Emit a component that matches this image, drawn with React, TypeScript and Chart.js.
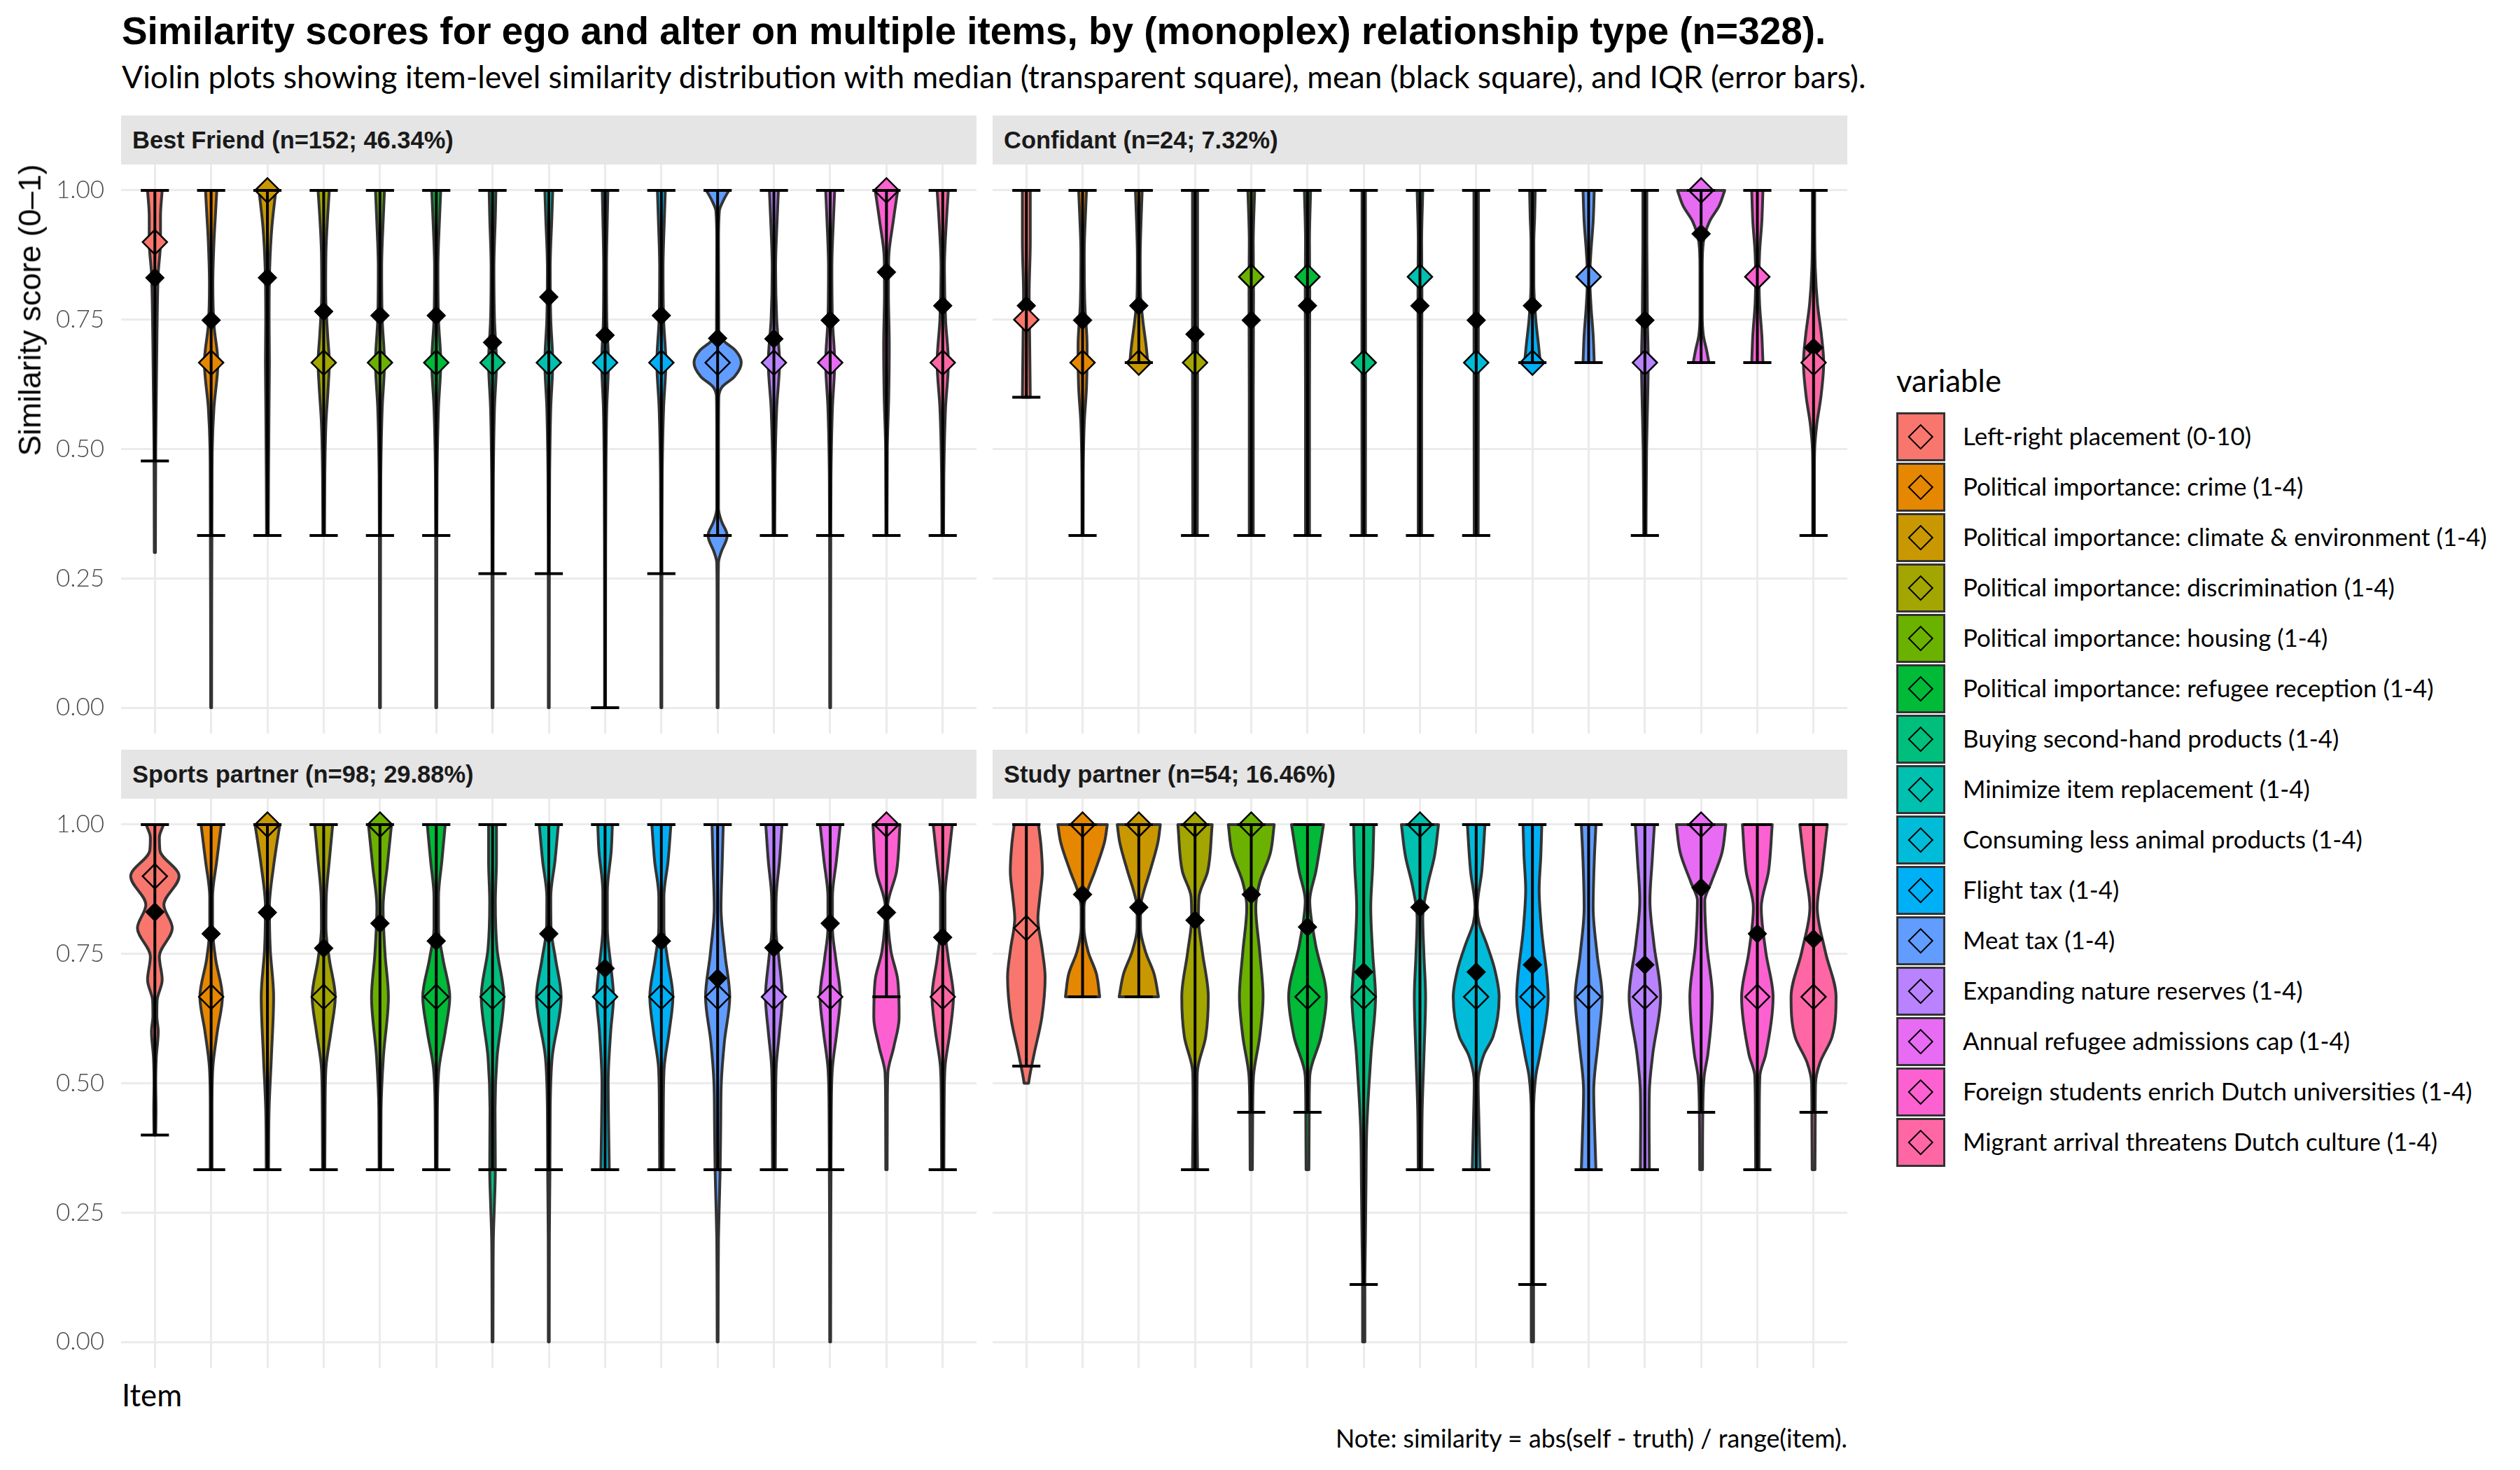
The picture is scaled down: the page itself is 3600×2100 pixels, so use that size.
import React, { useEffect, useRef } from "react";
import { Chart, registerables } from "chart.js";

Chart.register(...registerables);

// ---------------- DATA ----------------
const ITEMS = [
  "Left-right placement (0-10)",
  "Political importance: crime (1-4)",
  "Political importance: climate & environment (1-4)",
  "Political importance: discrimination (1-4)",
  "Political importance: housing (1-4)",
  "Political importance: refugee reception (1-4)",
  "Buying second-hand products (1-4)",
  "Minimize item replacement (1-4)",
  "Consuming less animal products (1-4)",
  "Flight tax (1-4)",
  "Meat tax (1-4)",
  "Expanding nature reserves (1-4)",
  "Annual refugee admissions cap (1-4)",
  "Foreign students enrich Dutch universities (1-4)",
  "Migrant arrival threatens Dutch culture (1-4)",
];

const COLORS = [
  "#F8766D", "#E58700", "#C99800", "#A3A500", "#6BB100",
  "#00BA38", "#00BF7D", "#00C0AF", "#00BCD8", "#00B0F6",
  "#619CFF", "#B983FF", "#E76BF3", "#FD61D1", "#FF67A4",
];

const Y_TICKS = [0, 0.25, 0.5, 0.75, 1];

const PANEL_TITLES = [
  "Best Friend (n=152; 46.34%)",
  "Confidant (n=24; 7.32%)",
  "Sports partner (n=98; 29.88%)",
  "Study partner (n=54; 16.46%)",
];

const TITLE = "Similarity scores for ego and alter on multiple items, by (monoplex) relationship type (n=328).";
const SUBTITLE = "Violin plots showing item-level similarity distribution with median (transparent square), mean (black square), and IQR (error bars).";
const Y_TITLE = "Similarity score (0\u20131)";
const X_TITLE = "Item";
const LEGEND_TITLE = "variable";
const NOTE = "Note: similarity = abs(self - truth) / range(item).";

// Best Friend
const BF_MEAN = [0.831, 0.749, 0.831, 0.766, 0.758, 0.758, 0.706, 0.794, 0.72, 0.758, 0.714, 0.713, 0.749, 0.842, 0.777];
const BF_MEDIAN = [0.9, 0.667, 1, 0.667, 0.667, 0.667, 0.667, 0.667, 0.667, 0.667, 0.667, 0.667, 0.667, 1, 0.667];
const BF_IQR_LOW = [0.477, 0.333, 0.333, 0.333, 0.333, 0.333, 0.259, 0.259, 0, 0.259, 0.333, 0.333, 0.333, 0.333, 0.333];
const BF_IQR_HIGH = [1, 1, 1, 1, 1, 1, 1, 1, 1, 1, 1, 1, 1, 1, 1];
// violin density profiles: [similarity value, scaled half-density]
const BF_VIOLIN = [
  [[0.3, 0.01], [0.4, 0.012], [0.5, 0.015], [0.6, 0.025], [0.7, 0.035], [0.78, 0.045], [0.84, 0.06], [0.9, 0.1], [0.95, 0.1], [1, 0.13]],
  [[0, 0.008], [0.2, 0.01], [0.4, 0.015], [0.5, 0.02], [0.58, 0.05], [0.667, 0.12], [0.74, 0.05], [0.82, 0.03], [0.9, 0.05], [0.96, 0.08], [1, 0.1]],
  [[0.333, 0.015], [0.45, 0.02], [0.6, 0.03], [0.667, 0.035], [0.75, 0.03], [0.85, 0.04], [0.93, 0.08], [1, 0.15]],
  [[0.333, 0.015], [0.45, 0.02], [0.55, 0.04], [0.62, 0.08], [0.667, 0.1], [0.72, 0.07], [0.8, 0.035], [0.88, 0.04], [0.95, 0.07], [1, 0.1]],
  [[0, 0.008], [0.3, 0.01], [0.45, 0.015], [0.58, 0.04], [0.667, 0.08], [0.75, 0.04], [0.85, 0.03], [0.95, 0.06], [1, 0.08]],
  [[0, 0.008], [0.3, 0.01], [0.45, 0.015], [0.58, 0.04], [0.667, 0.08], [0.75, 0.04], [0.85, 0.03], [0.95, 0.06], [1, 0.08]],
  [[0, 0.008], [0.3, 0.01], [0.45, 0.015], [0.58, 0.035], [0.667, 0.07], [0.75, 0.035], [0.85, 0.025], [0.95, 0.05], [1, 0.06]],
  [[0, 0.008], [0.3, 0.01], [0.45, 0.015], [0.58, 0.035], [0.667, 0.07], [0.75, 0.035], [0.85, 0.025], [0.95, 0.055], [1, 0.07]],
  [[0, 0.008], [0.3, 0.01], [0.45, 0.015], [0.58, 0.03], [0.667, 0.06], [0.75, 0.03], [0.85, 0.025], [0.95, 0.04], [1, 0.05]],
  [[0, 0.008], [0.3, 0.01], [0.45, 0.015], [0.58, 0.04], [0.667, 0.08], [0.75, 0.04], [0.85, 0.03], [0.95, 0.055], [1, 0.07]],
  [[0, 0.008], [0.2, 0.01], [0.28, 0.015], [0.3, 0.06], [0.333, 0.17], [0.36, 0.07], [0.385, 0.015], [0.5, 0.015], [0.6, 0.02], [0.62, 0.08], [0.64, 0.3], [0.667, 0.42], [0.69, 0.32], [0.71, 0.1], [0.73, 0.02], [0.9, 0.015], [0.96, 0.03], [0.98, 0.1], [1, 0.2]],
  [[0.333, 0.015], [0.45, 0.02], [0.58, 0.05], [0.667, 0.1], [0.75, 0.05], [0.85, 0.03], [0.95, 0.06], [1, 0.08]],
  [[0, 0.008], [0.3, 0.01], [0.45, 0.015], [0.58, 0.04], [0.667, 0.08], [0.75, 0.04], [0.85, 0.03], [0.95, 0.06], [1, 0.08]],
  [[0.333, 0.01], [0.5, 0.015], [0.6, 0.04], [0.7, 0.05], [0.8, 0.035], [0.87, 0.04], [0.94, 0.12], [1, 0.2]],
  [[0.333, 0.015], [0.45, 0.02], [0.58, 0.05], [0.667, 0.1], [0.75, 0.05], [0.85, 0.03], [0.95, 0.07], [1, 0.1]],
];

// Confidant
const CF_MEAN = [0.777, 0.749, 0.777, 0.722, 0.749, 0.777, 0.668, 0.777, 0.749, 0.777, 0.834, 0.749, 0.916, 0.834, 0.696];
const CF_MEDIAN = [0.75, 0.667, 0.667, 0.667, 0.833, 0.833, 0.667, 0.833, 0.667, 0.667, 0.833, 0.667, 1, 0.833, 0.667];
const CF_IQR_LOW = [0.6, 0.333, 0.667, 0.333, 0.333, 0.333, 0.333, 0.333, 0.333, 0.667, 0.667, 0.333, 0.667, 0.667, 0.333];
const CF_IQR_HIGH = [1, 1, 1, 1, 1, 1, 1, 1, 1, 1, 1, 1, 1, 1, 1];
const CF_VIOLIN = [
  [[0.6, 0.07], [0.7, 0.06], [0.8, 0.05], [0.9, 0.07], [1, 0.07]],
  [[0.333, 0.01], [0.45, 0.012], [0.55, 0.03], [0.62, 0.07], [0.7, 0.08], [0.78, 0.04], [0.88, 0.03], [0.95, 0.05], [1, 0.07]],
  [[0.667, 0.16], [0.7, 0.13], [0.75, 0.07], [0.8, 0.03], [0.87, 0.025], [0.94, 0.04], [1, 0.06]],
  [[0.333, 0.04], [0.667, 0.045], [1, 0.045]],
  [[0.333, 0.035], [0.6, 0.035], [0.8, 0.04], [0.9, 0.035], [1, 0.06]],
  [[0.333, 0.035], [0.6, 0.035], [0.8, 0.04], [0.9, 0.035], [1, 0.055]],
  [[0.333, 0.03], [0.667, 0.032], [1, 0.03]],
  [[0.333, 0.03], [0.6, 0.03], [0.8, 0.035], [0.9, 0.03], [1, 0.05]],
  [[0.333, 0.035], [0.667, 0.038], [1, 0.04]],
  [[0.667, 0.14], [0.7, 0.11], [0.75, 0.06], [0.82, 0.025], [0.9, 0.025], [0.95, 0.04], [1, 0.05]],
  [[0.667, 0.1], [0.72, 0.08], [0.78, 0.04], [0.833, 0.02], [0.88, 0.04], [0.94, 0.08], [1, 0.1]],
  [[0.333, 0.02], [0.5, 0.03], [0.6, 0.05], [0.667, 0.06], [0.75, 0.045], [0.9, 0.035], [1, 0.035]],
  [[0.667, 0.14], [0.69, 0.1], [0.72, 0.04], [0.76, 0.02], [0.85, 0.02], [0.9, 0.04], [0.94, 0.15], [0.97, 0.32], [1, 0.42]],
  [[0.667, 0.1], [0.72, 0.08], [0.78, 0.04], [0.833, 0.03], [0.88, 0.04], [0.94, 0.08], [1, 0.1]],
  [[0.333, 0.015], [0.45, 0.015], [0.5, 0.02], [0.55, 0.06], [0.6, 0.13], [0.667, 0.18], [0.72, 0.14], [0.78, 0.07], [0.85, 0.03], [0.95, 0.02], [1, 0.02]],
];

// Sports partner
const SP_MEAN = [0.831, 0.789, 0.83, 0.761, 0.809, 0.775, 0.668, 0.789, 0.722, 0.775, 0.703, 0.762, 0.809, 0.83, 0.782];
const SP_MEDIAN = [0.9, 0.667, 1, 0.667, 1, 0.667, 0.667, 0.667, 0.667, 0.667, 0.667, 0.667, 0.667, 1, 0.667];
const SP_IQR_LOW = [0.4, 0.333, 0.333, 0.333, 0.333, 0.333, 0.333, 0.333, 0.333, 0.333, 0.333, 0.333, 0.333, 0.667, 0.333];
const SP_IQR_HIGH = [1, 1, 1, 1, 1, 1, 1, 1, 1, 1, 1, 1, 1, 1, 1];
const SP_VIOLIN = [
  [[0.4, 0.015], [0.45, 0.02], [0.5, 0.015], [0.55, 0.025], [0.6, 0.06], [0.63, 0.035], [0.66, 0.04], [0.7, 0.13], [0.745, 0.08], [0.8, 0.31], [0.845, 0.16], [0.9, 0.43], [0.95, 0.09], [0.975, 0.08], [1, 0.155]],
  [[0.333, 0.015], [0.45, 0.015], [0.53, 0.03], [0.6, 0.11], [0.667, 0.2], [0.74, 0.08], [0.8, 0.025], [0.86, 0.025], [0.93, 0.1], [1, 0.18]],
  [[0.333, 0.02], [0.45, 0.03], [0.55, 0.07], [0.667, 0.11], [0.76, 0.05], [0.84, 0.035], [0.92, 0.11], [1, 0.22]],
  [[0.333, 0.02], [0.45, 0.025], [0.53, 0.04], [0.6, 0.13], [0.667, 0.205], [0.74, 0.1], [0.8, 0.04], [0.86, 0.045], [0.93, 0.1], [1, 0.16]],
  [[0.333, 0.015], [0.45, 0.02], [0.55, 0.06], [0.667, 0.15], [0.75, 0.09], [0.84, 0.055], [0.92, 0.13], [1, 0.205]],
  [[0.333, 0.015], [0.45, 0.02], [0.53, 0.05], [0.6, 0.16], [0.667, 0.24], [0.74, 0.12], [0.8, 0.04], [0.86, 0.04], [0.93, 0.1], [1, 0.16]],
  [[0, 0.008], [0.1, 0.01], [0.2, 0.015], [0.27, 0.035], [0.333, 0.05], [0.45, 0.045], [0.55, 0.08], [0.667, 0.2], [0.76, 0.08], [0.85, 0.05], [0.93, 0.07], [1, 0.07]],
  [[0, 0.008], [0.2, 0.01], [0.333, 0.02], [0.45, 0.025], [0.55, 0.06], [0.667, 0.22], [0.74, 0.12], [0.8, 0.04], [0.86, 0.035], [0.93, 0.11], [1, 0.17]],
  [[0.333, 0.075], [0.4, 0.065], [0.5, 0.055], [0.6, 0.1], [0.667, 0.15], [0.72, 0.11], [0.8, 0.04], [0.87, 0.04], [0.95, 0.11], [1, 0.13]],
  [[0.333, 0.03], [0.45, 0.035], [0.53, 0.05], [0.6, 0.14], [0.667, 0.205], [0.74, 0.11], [0.8, 0.045], [0.86, 0.045], [0.93, 0.12], [1, 0.17]],
  [[0, 0.008], [0.1, 0.01], [0.2, 0.015], [0.27, 0.03], [0.333, 0.045], [0.42, 0.055], [0.5, 0.065], [0.58, 0.12], [0.667, 0.215], [0.75, 0.13], [0.84, 0.06], [0.92, 0.08], [1, 0.1]],
  [[0.333, 0.025], [0.45, 0.03], [0.53, 0.04], [0.6, 0.1], [0.667, 0.15], [0.74, 0.09], [0.8, 0.035], [0.86, 0.04], [0.93, 0.1], [1, 0.145]],
  [[0, 0.008], [0.2, 0.01], [0.333, 0.015], [0.45, 0.02], [0.53, 0.04], [0.6, 0.12], [0.667, 0.18], [0.74, 0.1], [0.8, 0.04], [0.86, 0.04], [0.93, 0.11], [1, 0.18]],
  [[0.333, 0.012], [0.45, 0.015], [0.52, 0.025], [0.57, 0.13], [0.627, 0.225], [0.7, 0.2], [0.755, 0.08], [0.84, 0.02], [0.91, 0.18], [1, 0.24]],
  [[0.333, 0.02], [0.45, 0.025], [0.53, 0.04], [0.6, 0.13], [0.667, 0.19], [0.74, 0.1], [0.8, 0.04], [0.86, 0.04], [0.93, 0.1], [1, 0.17]],
];

// Study partner
const ST_MEAN = [0.8, 0.865, 0.84, 0.815, 0.865, 0.802, 0.715, 0.84, 0.715, 0.729, 0.667, 0.729, 0.878, 0.789, 0.779];
const ST_MEDIAN = [0.8, 1, 1, 1, 1, 0.667, 0.667, 1, 0.667, 0.667, 0.667, 0.667, 1, 0.667, 0.667];
const ST_IQR_LOW = [0.533, 0.667, 0.667, 0.333, 0.444, 0.444, 0.111, 0.333, 0.333, 0.111, 0.333, 0.333, 0.444, 0.333, 0.444];
const ST_IQR_HIGH = [1, 1, 1, 1, 1, 1, 1, 1, 1, 1, 1, 1, 1, 1, 1];
const ST_VIOLIN = [
  [[0.5, 0.04], [0.514, 0.06], [0.556, 0.137], [0.627, 0.275], [0.705, 0.334], [0.76, 0.28], [0.818, 0.206], [0.86, 0.24], [0.91, 0.285], [0.96, 0.26], [1, 0.216]],
  [[0.667, 0.305], [0.712, 0.245], [0.754, 0.1], [0.8, 0.025], [0.84, 0.025], [0.867, 0.073], [0.91, 0.22], [0.966, 0.39], [1, 0.44]],
  [[0.667, 0.35], [0.712, 0.27], [0.754, 0.12], [0.8, 0.03], [0.84, 0.03], [0.867, 0.08], [0.91, 0.2], [0.966, 0.34], [1, 0.383]],
  [[0.333, 0.045], [0.45, 0.035], [0.52, 0.04], [0.59, 0.19], [0.667, 0.236], [0.754, 0.13], [0.82, 0.06], [0.86, 0.07], [0.91, 0.226], [1, 0.305]],
  [[0.333, 0.02], [0.44, 0.025], [0.514, 0.04], [0.59, 0.15], [0.667, 0.21], [0.754, 0.15], [0.84, 0.08], [0.888, 0.15], [0.945, 0.34], [1, 0.408]],
  [[0.333, 0.025], [0.44, 0.03], [0.514, 0.04], [0.59, 0.24], [0.667, 0.335], [0.77, 0.14], [0.853, 0.04], [0.91, 0.15], [1, 0.285]],
  [[0, 0.02], [0.1, 0.02], [0.2, 0.03], [0.3, 0.04], [0.415, 0.055], [0.556, 0.13], [0.667, 0.21], [0.75, 0.16], [0.84, 0.125], [0.92, 0.16], [1, 0.18]],
  [[0.333, 0.03], [0.45, 0.04], [0.55, 0.07], [0.667, 0.1], [0.75, 0.07], [0.82, 0.05], [0.88, 0.13], [0.94, 0.26], [1, 0.33]],
  [[0.333, 0.07], [0.42, 0.05], [0.5, 0.035], [0.52, 0.05], [0.556, 0.14], [0.59, 0.3], [0.667, 0.408], [0.72, 0.33], [0.768, 0.19], [0.81, 0.05], [0.84, 0.02], [0.91, 0.1], [1, 0.157]],
  [[0, 0.02], [0.111, 0.02], [0.3, 0.02], [0.44, 0.02], [0.514, 0.06], [0.556, 0.135], [0.667, 0.28], [0.8, 0.16], [0.874, 0.12], [0.94, 0.15], [1, 0.167]],
  [[0.333, 0.13], [0.4, 0.11], [0.485, 0.09], [0.58, 0.17], [0.667, 0.24], [0.75, 0.15], [0.84, 0.08], [0.93, 0.1], [1, 0.13]],
  [[0.333, 0.08], [0.42, 0.075], [0.485, 0.08], [0.556, 0.14], [0.667, 0.28], [0.77, 0.16], [0.853, 0.09], [0.93, 0.13], [1, 0.17]],
  [[0.333, 0.025], [0.44, 0.03], [0.514, 0.055], [0.556, 0.12], [0.667, 0.2], [0.768, 0.1], [0.853, 0.065], [0.888, 0.18], [0.945, 0.37], [1, 0.44]],
  [[0.333, 0.03], [0.44, 0.035], [0.514, 0.045], [0.556, 0.15], [0.667, 0.28], [0.754, 0.15], [0.84, 0.07], [0.91, 0.2], [1, 0.265]],
  [[0.333, 0.025], [0.44, 0.03], [0.5, 0.035], [0.54, 0.115], [0.59, 0.33], [0.667, 0.4], [0.754, 0.21], [0.84, 0.065], [0.91, 0.15], [1, 0.245]],
];

// ---------------- LAYOUT / STYLE ----------------
const SANS = '"Liberation Sans", Arial, sans-serif';
const GEO = 'Lato, "Noto Sans", sans-serif';
const PAGE_W = 3600;
const PAGE_H = 2100;

const mctx: any = document.createElement("canvas").getContext("2d");

function fitSize(text: string, family: string, weight: number, target: number) {
  mctx.font = `${weight} 100px ${family}`;
  return (100 * target) / mctx.measureText(text).width;
}

function topForBaseline(family: string, weight: number, size: number, baseline: number) {
  mctx.font = `${weight} ${size}px ${family}`;
  const m = mctx.measureText("Hg");
  const a = m.fontBoundingBoxAscent ?? size * 0.9;
  const d = m.fontBoundingBoxDescent ?? size * 0.2;
  return baseline - (size / 2 + (a - d) / 2);
}

function Txt(props: any) {
  const { text, family, weight = 400, size, x, baseline, align = "left", color = "#000", extra = {} } = props;
  const style: any = {
    position: "absolute",
    top: topForBaseline(family, weight, size, baseline),
    fontFamily: family,
    fontWeight: weight,
    fontSize: size,
    lineHeight: `${size}px`,
    whiteSpace: "nowrap",
    color,
    margin: 0,
  };
  if (align === "left") style.left = x;
  else style.right = PAGE_W - x;
  return <div style={{ ...style, ...extra }}>{text}</div>;
}

function monoTangents(v: number[], w: number[]) {
  const n = v.length;
  const d: number[] = [];
  for (let i = 0; i < n - 1; i++) d.push((w[i + 1] - w[i]) / (v[i + 1] - v[i]));
  const m: number[] = new Array(n).fill(0);
  if (n < 2) return m;
  m[0] = d[0];
  m[n - 1] = d[n - 2];
  for (let i = 1; i < n - 1; i++) m[i] = d[i - 1] * d[i] <= 0 ? 0 : (d[i - 1] + d[i]) / 2;
  for (let i = 0; i < n - 1; i++) {
    if (d[i] === 0) { m[i] = 0; m[i + 1] = 0; continue; }
    const a = m[i] / d[i];
    const b = m[i + 1] / d[i];
    const s = a * a + b * b;
    if (s > 9) {
      const t = 3 / Math.sqrt(s);
      m[i] = t * a * d[i];
      m[i + 1] = t * b * d[i];
    }
  }
  return m;
}

function makePanelPlugin(profiles: number[][][], lows: number[], highs: number[]) {
  return {
    id: "violinLayer",
    beforeDatasetsDraw(chart: any) {
      const { ctx } = chart;
      const xs = chart.scales.x;
      const ys = chart.scales.y;
      profiles.forEach((prof, i) => {
        const c = i + 1;
        const v = prof.map((p) => p[0]);
        const w = prof.map((p) => p[1]);
        const m = monoTangents(v, w);
        const n = v.length;
        const P = (val: number, wid: number, side: number) => [xs.getPixelForValue(c + side * wid), ys.getPixelForValue(val)];
        ctx.save();
        ctx.beginPath();
        const b0 = P(v[0], w[0], -1);
        ctx.moveTo(b0[0], b0[1]);
        const b1 = P(v[0], w[0], 1);
        ctx.lineTo(b1[0], b1[1]);
        for (let k = 0; k < n - 1; k++) {
          const h = v[k + 1] - v[k];
          const c1 = P(v[k] + h / 3, w[k] + (m[k] * h) / 3, 1);
          const c2 = P(v[k + 1] - h / 3, w[k + 1] - (m[k + 1] * h) / 3, 1);
          const e = P(v[k + 1], w[k + 1], 1);
          ctx.bezierCurveTo(c1[0], c1[1], c2[0], c2[1], e[0], e[1]);
        }
        const tl = P(v[n - 1], w[n - 1], -1);
        ctx.lineTo(tl[0], tl[1]);
        for (let k = n - 1; k > 0; k--) {
          const h = v[k] - v[k - 1];
          const c1 = P(v[k] - h / 3, w[k] - (m[k] * h) / 3, -1);
          const c2 = P(v[k - 1] + h / 3, w[k - 1] + (m[k - 1] * h) / 3, -1);
          const e = P(v[k - 1], w[k - 1], -1);
          ctx.bezierCurveTo(c1[0], c1[1], c2[0], c2[1], e[0], e[1]);
        }
        ctx.closePath();
        ctx.fillStyle = COLORS[i];
        ctx.fill();
        ctx.lineWidth = 4;
        ctx.strokeStyle = "#333333";
        ctx.lineJoin = "round";
        ctx.stroke();
        ctx.restore();
      });
    },
    afterDatasetsDraw(chart: any) {
      const { ctx } = chart;
      const xs = chart.scales.x;
      const ys = chart.scales.y;
      ctx.save();
      ctx.strokeStyle = "#000000";
      ctx.lineWidth = 4;
      lows.forEach((lo, i) => {
        const c = i + 1;
        const xc = xs.getPixelForValue(c);
        const xl = xs.getPixelForValue(c - 0.25);
        const xr = xs.getPixelForValue(c + 0.25);
        const yl = ys.getPixelForValue(lo);
        const yh = ys.getPixelForValue(highs[i]);
        ctx.beginPath();
        ctx.moveTo(xc, yl);
        ctx.lineTo(xc, yh);
        ctx.moveTo(xl, yl);
        ctx.lineTo(xr, yl);
        ctx.moveTo(xl, yh);
        ctx.lineTo(xr, yh);
        ctx.stroke();
      });
      ctx.restore();
    },
  };
}

function Panel(props: any) {
  const { left, top, width, height, axisWidth, showY, means, medians, lows, highs, profiles } = props;
  const ref = useRef<HTMLCanvasElement>(null);
  useEffect(() => {
    const grid = { color: "#EBEBEB", lineWidth: 3, drawTicks: false };
    const chart = new Chart(ref.current as HTMLCanvasElement, {
      type: "scatter",
      data: {
        datasets: [
          {
            label: "Median",
            data: medians.map((v: number, i: number) => ({ x: i + 1, y: v })),
            pointStyle: "rectRot",
            pointRadius: 17.5,
            pointHoverRadius: 17.5,
            backgroundColor: COLORS,
            borderColor: "#000000",
            borderWidth: 2.5,
          },
          {
            label: "Mean",
            data: means.map((v: number, i: number) => ({ x: i + 1, y: v })),
            pointStyle: "rectRot",
            pointRadius: 13.5,
            pointHoverRadius: 13.5,
            backgroundColor: "#000000",
            borderColor: "#000000",
            borderWidth: 1,
          },
        ],
      } as any,
      options: {
        responsive: false,
        animation: false,
        devicePixelRatio: 1,
        events: [],
        layout: { padding: 0, autoPadding: false },
        plugins: { legend: { display: false }, tooltip: { enabled: false }, title: { display: false } },
        scales: {
          x: {
            type: "linear",
            min: 0.4,
            max: 15.6,
            afterBuildTicks: (s: any) => { s.ticks = ITEMS.map((_, i) => ({ value: i + 1 })); },
            afterFit: (s: any) => { s.height = 0; s.paddingLeft = 0; s.paddingRight = 0; },
            ticks: { display: false },
            grid,
            border: { display: false },
          },
          y: {
            type: "linear",
            min: -0.05,
            max: 1.05,
            afterBuildTicks: (s: any) => { s.ticks = Y_TICKS.map((v) => ({ value: v })); },
            afterFit: (s: any) => { s.width = axisWidth; s.paddingTop = 0; s.paddingBottom = 0; },
            ticks: {
              display: showY,
              padding: 24,
              color: "#4D4D4D",
              font: { family: "Lato", size: 35, weight: "300" },
              callback: (v: any) => Number(v).toFixed(2),
            },
            grid,
            border: { display: false },
          },
        },
      } as any,
      plugins: [makePanelPlugin(profiles, lows, highs)],
    });
    return () => chart.destroy();
  }, []);
  return (
    <canvas
      ref={ref}
      width={width}
      height={height}
      style={{ position: "absolute", left, top, width, height }}
    />
  );
}

function Strip(props: any) {
  const { left, top, width, height, text, size } = props;
  return (
    <>
      <div style={{ position: "absolute", left, top, width, height, background: "#E5E5E5" }} />
      <Txt text={text} family={SANS} weight={700} size={size} x={left + 16} baseline={top + height / 2 + size * 0.36} color="#1A1A1A" />
    </>
  );
}

export default function App() {
  const titleSize = fitSize(TITLE, SANS, 700, 2435);
  const subSize = fitSize(SUBTITLE, GEO, 400, 2495);
  const stripSize = fitSize(PANEL_TITLES[0], SANS, 700, 459);
  const yTitleSize = fitSize(Y_TITLE, SANS, 400, 417);
  const itemSize = fitSize(X_TITLE, GEO, 400, 86);
  const noteSize = fitSize(NOTE, GEO, 400, 733);
  const legTitleSize = fitSize(LEGEND_TITLE, GEO, 400, 150);
  const legSize = fitSize(ITEMS[2], GEO, 400, 749);

  const AX = 120;
  const L1 = 173, W1 = 1222;
  const L2 = 1418, W2 = 1221;
  const T1 = 235, T2 = 1141, H = 813;
  const STRIP_H = 70;

  const KEY = 70, PITCH = 72, KEY_TOP = 589, KEY_LEFT = 2709;

  return (
    <div style={{ position: "absolute", left: 0, top: 0, width: PAGE_W, height: PAGE_H, background: "#FFFFFF", overflow: "hidden" }}>
      <Txt text={TITLE} family={SANS} weight={700} size={titleSize} x={174} baseline={63} />
      <Txt text={SUBTITLE} family={GEO} weight={400} size={subSize} x={174} baseline={127} />

      <Strip left={L1} top={T1 - STRIP_H} width={W1} height={STRIP_H} text={PANEL_TITLES[0]} size={stripSize} />
      <Strip left={L2} top={T1 - STRIP_H} width={W2} height={STRIP_H} text={PANEL_TITLES[1]} size={stripSize} />
      <Strip left={L1} top={T2 - STRIP_H} width={W1} height={STRIP_H} text={PANEL_TITLES[2]} size={stripSize} />
      <Strip left={L2} top={T2 - STRIP_H} width={W2} height={STRIP_H} text={PANEL_TITLES[3]} size={stripSize} />

      <Panel left={L1 - AX} top={T1} width={W1 + AX} height={H} axisWidth={AX} showY={true}
        means={BF_MEAN} medians={BF_MEDIAN} lows={BF_IQR_LOW} highs={BF_IQR_HIGH} profiles={BF_VIOLIN} />
      <Panel left={L2} top={T1} width={W2} height={H} axisWidth={0} showY={false}
        means={CF_MEAN} medians={CF_MEDIAN} lows={CF_IQR_LOW} highs={CF_IQR_HIGH} profiles={CF_VIOLIN} />
      <Panel left={L1 - AX} top={T2} width={W1 + AX} height={H} axisWidth={AX} showY={true}
        means={SP_MEAN} medians={SP_MEDIAN} lows={SP_IQR_LOW} highs={SP_IQR_HIGH} profiles={SP_VIOLIN} />
      <Panel left={L2} top={T2} width={W2} height={H} axisWidth={0} showY={false}
        means={ST_MEAN} medians={ST_MEDIAN} lows={ST_IQR_LOW} highs={ST_IQR_HIGH} profiles={ST_VIOLIN} />

      <div
        style={{
          position: "absolute",
          left: 43,
          top: 443,
          transform: "translate(-50%, -50%) rotate(-90deg)",
          fontFamily: SANS,
          fontSize: yTitleSize,
          lineHeight: `${yTitleSize}px`,
          whiteSpace: "nowrap",
          color: "#000",
        }}
      >
        {Y_TITLE}
      </div>

      <Txt text={X_TITLE} family={GEO} size={itemSize} x={174} baseline={2010} />
      <Txt text={NOTE} family={GEO} size={noteSize} x={2639} baseline={2068} align="right" />

      <Txt text={LEGEND_TITLE} family={GEO} size={legTitleSize} x={KEY_LEFT} baseline={561} />
      {ITEMS.map((label, i) => {
        const top = KEY_TOP + i * PITCH;
        return (
          <React.Fragment key={label}>
            <div
              style={{
                position: "absolute",
                left: KEY_LEFT,
                top,
                width: KEY,
                height: KEY,
                boxSizing: "border-box",
                background: COLORS[i],
                border: "3px solid #333333",
              }}
            >
              <div
                style={{
                  position: "absolute",
                  left: (KEY - 6 - 25.5) / 2,
                  top: (KEY - 6 - 25.5) / 2,
                  width: 25.5,
                  height: 25.5,
                  boxSizing: "border-box",
                  border: "2.5px solid #000000",
                  transform: "rotate(45deg)",
                }}
              />
            </div>
            <Txt text={label} family={GEO} size={legSize} x={2804} baseline={top + KEY / 2 + legSize * 0.36} />
          </React.Fragment>
        );
      })}
    </div>
  );
}
